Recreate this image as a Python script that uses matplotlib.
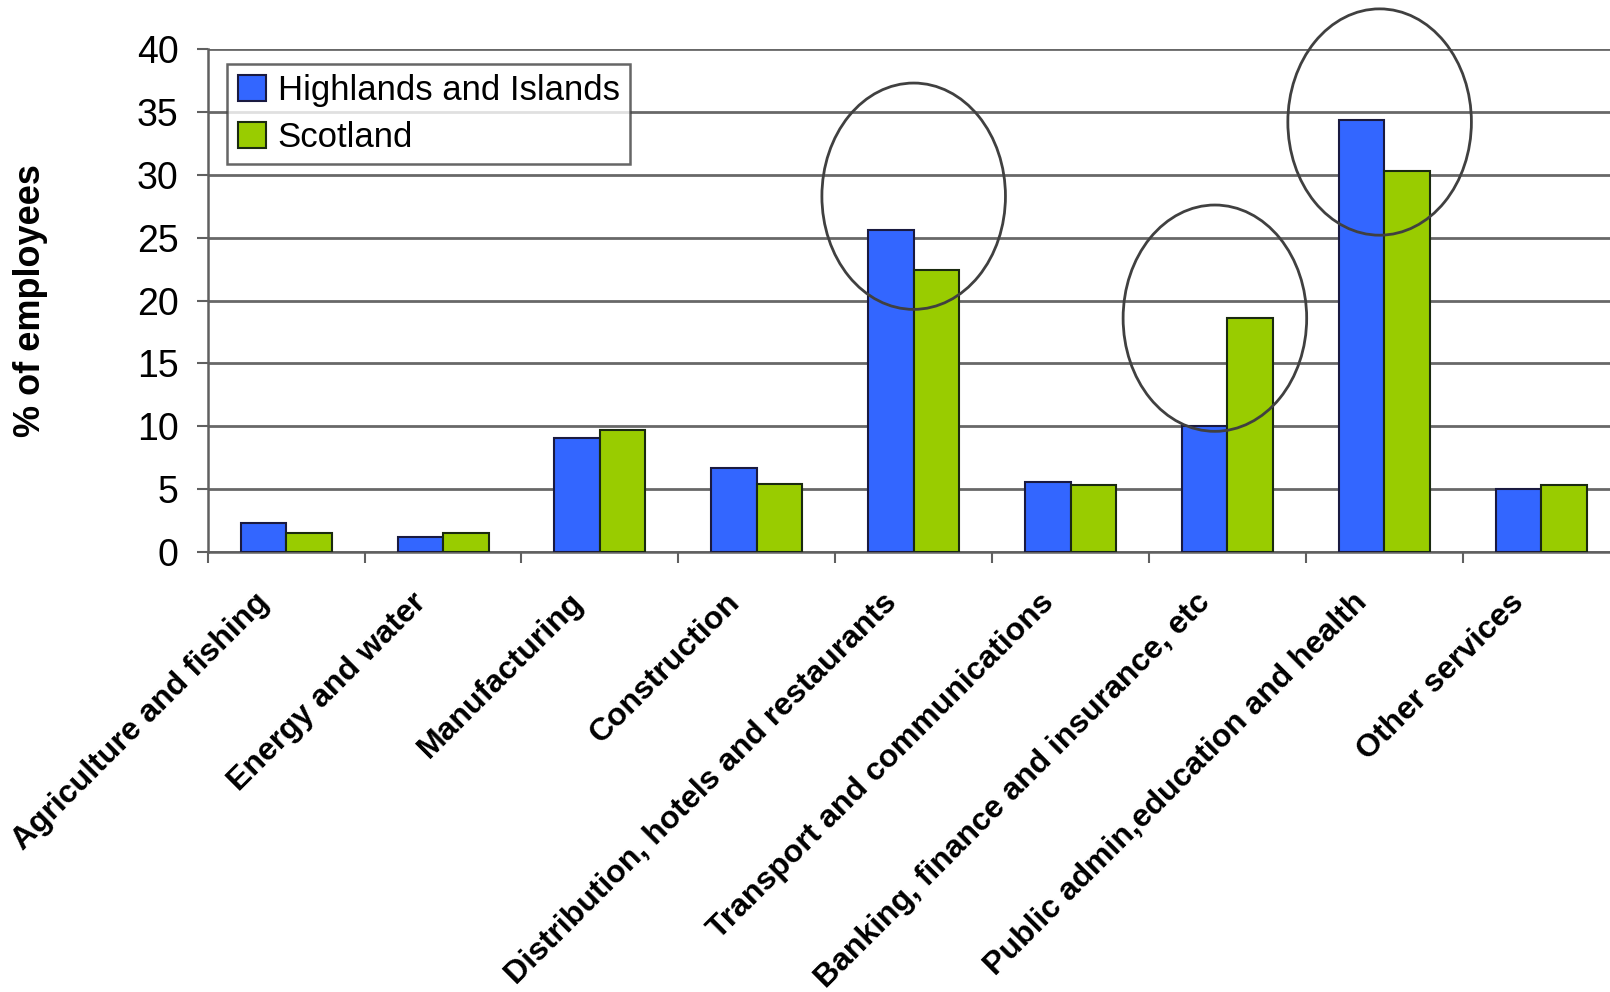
import matplotlib.pyplot as plt
import matplotlib.transforms as mtransforms
from matplotlib.patches import Ellipse
import numpy as np

plt.rcParams['font.family'] = ['Liberation Sans', 'DejaVu Sans']

categories = ['Agriculture and fishing', 'Energy and water', 'Manufacturing',
              'Construction', 'Distribution, hotels and restaurants',
              'Transport and communications', 'Banking, finance and insurance, etc',
              'Public admin,education and health', 'Other services']
highlands = [2.3, 1.2, 9.1, 6.7, 25.6, 5.6, 10.0, 34.4, 5.0]
scotland = [1.5, 1.5, 9.7, 5.4, 22.4, 5.3, 18.6, 30.3, 5.3]

# highlighted categories: (centre x, centre y) in data units
circles = [(4.0, 28.3), (5.92, 18.6), (6.97, 34.2)]

fig = plt.figure(figsize=(16.1, 9.92), dpi=100)
ax = fig.add_axes([0.129, 0.4435, 0.877, 0.507])

x = np.arange(len(categories))
w = 0.29
ax.bar(x - w / 2, highlands, w, color='#3366FF', edgecolor='#1a1a40', linewidth=1.5,
       label='Highlands and Islands', zorder=3)
ax.bar(x + w / 2, scotland, w, color='#99CC00', edgecolor='#1a2a10', linewidth=1.5,
       label='Scotland', zorder=3)

for cx, cy in circles:
    ax.add_patch(Ellipse((cx, cy), 1.17, 18.0, fill=False, edgecolor='#404040',
                         linewidth=2, zorder=4, clip_on=False))

ax.set_xlim(-0.5, len(categories) - 0.5)
ax.set_ylim(0, 40)
ax.set_yticks(range(0, 41, 5))
ax.yaxis.grid(True, color='#686868', linewidth=2, zorder=0)
ax.set_axisbelow(True)

ax.set_xticks(x)
ax.set_xticklabels(categories, rotation=45, ha='right', rotation_mode='anchor',
                   fontsize=23, fontweight='bold')
ax.tick_params(axis='x', length=0, pad=22)
shift = mtransforms.ScaledTranslation(-0.32, -0.05, fig.dpi_scale_trans)
for lab in ax.get_xticklabels():
    lab.set_transform(lab.get_transform() + shift)
ax.set_xticks(np.arange(-0.5, len(categories), 1), minor=True)
ax.tick_params(axis='x', which='minor', length=8, width=1.5, color='#606060')
ax.tick_params(axis='y', labelsize=27, length=8, width=1.5, color='#606060', pad=13)

for s in ['top', 'right']:
    ax.spines[s].set_visible(False)
for s in ['left', 'bottom']:
    ax.spines[s].set_color('#606060')
    ax.spines[s].set_linewidth(1.8)

ax.set_ylabel('% of employees', fontsize=26, fontweight='bold')
ax.yaxis.set_label_coords(-0.113, 0.5)

leg = ax.legend(loc='upper left', bbox_to_anchor=(0.014, 0.971), fontsize=25,
                frameon=True, fancybox=False, edgecolor='#404040',
                handlelength=0.8, handleheight=0.8, handletextpad=0.35,
                borderpad=0.3, labelspacing=0.4, borderaxespad=0)
leg.get_frame().set_linewidth(1.8)

fig.savefig('out.png', dpi=100, facecolor='white')
